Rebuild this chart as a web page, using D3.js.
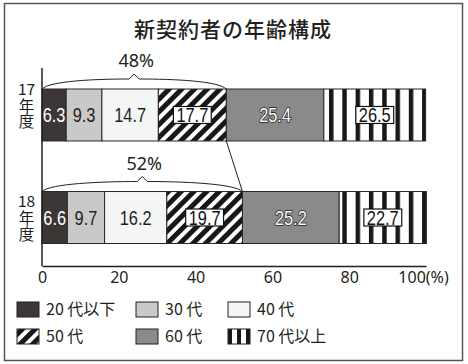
<!DOCTYPE html>
<html>
<head>
<meta charset="utf-8">
<script src="https://cdn.jsdelivr.net/npm/d3@7"></script>
<style>
body { margin: 0; background: #fff; }
</style>
</head>
<body>
<svg id="chart" width="468" height="364"></svg>
<script>
const years = ["17", "18"];
const groups = ["20代以下", "30代", "40代", "50代", "60代", "70代以上"];
const values17 = [6.3, 9.3, 14.7, 17.7, 25.4, 26.5];
const values18 = [6.6, 9.7, 16.2, 19.7, 25.2, 22.7];
const shareUnder60 = [48, 52];
const xTicks = [0, 20, 40, 60, 80, 100];
const legendLabels = ["20 代以下", "30 代", "40 代", "50 代", "60 代", "70 代以上"];

const fills = ["#3c3637", "#c9c9c9", "#f4f6f6", "url(#diag)", "#8a8a8a", "url(#vert)"];
const legendFills = ["#3c3637", "#c9c9c9", "#f4f6f6", "url(#diagLeg)", "#8a8a8a", "url(#vertLeg)"];
const numFont = "'Liberation Sans', Arial, sans-serif";
const jpFont = "'Noto Sans CJK JP', 'Noto Sans', sans-serif";

const svg = d3.select("#chart");

// frame
svg.append("rect")
    .attr("x", 4.5).attr("y", 3.5)
    .attr("width", 458).attr("height", 357)
    .attr("fill", "#fff")
    .attr("stroke", "#555")
    .attr("stroke-width", 1.5);

// patterns
const defs = svg.append("defs");
function stripes(id, w, black, x0, rotate) {
    const p = defs.append("pattern")
        .attr("id", id)
        .attr("patternUnits", "userSpaceOnUse")
        .attr("x", x0).attr("y", 0)
        .attr("width", w).attr("height", 40);
    if (rotate) p.attr("patternTransform", `rotate(${rotate})`);
    p.append("rect").attr("width", w).attr("height", 40).attr("fill", "#fff");
    p.append("rect").attr("width", black).attr("height", 40).attr("fill", "#1a1718");
}
stripes("diag", 9, 5, 0, 45);
stripes("vert", 13.3, 4.5, 329, 0);
stripes("diagLeg", 9, 5, 3, 45);
stripes("vertLeg", 9, 4, 228, 0);

// title
svg.append("text")
    .attr("x", 233).attr("y", 37)
    .attr("text-anchor", "middle")
    .attr("font-family", jpFont)
    .attr("font-weight", 500)
    .attr("font-size", 21)
    .attr("letter-spacing", 1)
    .attr("fill", "#231f20")
    .text("新契約者の年齢構成");

const x = d3.scaleLinear().domain([0, 100]).range([42, 426]);
const y = d3.scaleBand().domain(years).range([89, 243.5]).paddingInner(0.493).paddingOuter(0);

const rows = years.map(function (yr, i) {
    const vals = i === 0 ? values17 : values18;
    const row = { year: yr };
    groups.forEach(function (g, j) { row[g] = vals[j]; });
    return row;
});
const stacked = d3.stack().keys(groups)(rows);

// bars
const layers = svg.append("g")
    .selectAll("g")
    .data(stacked)
    .join("g")
    .attr("fill", function (d, i) { return fills[i]; });

layers.selectAll("rect")
    .data(function (d) { return d; })
    .join("rect")
    .attr("x", function (d) { return x(d[0]); })
    .attr("y", function (d) { return y(d.data.year); })
    .attr("width", function (d) { return x(d[1]) - x(d[0]); })
    .attr("height", y.bandwidth())
    .attr("stroke", "#2a2627")
    .attr("stroke-width", 1);

// value labels (narrowed horizontally like a condensed face)
const squeeze = 0.82;
stacked.forEach(function (layer, i) {
    layer.forEach(function (d) {
        const cx = (x(d[0]) + x(d[1])) / 2;
        const cy = y(d.data.year) + y.bandwidth() / 2;
        const g = svg.append("g");
        const inner = g.append("g")
            .attr("transform", `translate(${cx},${cy}) scale(${squeeze},1)`);
        const t = inner.append("text")
            .attr("dy", "0.36em")
            .attr("text-anchor", "middle")
            .attr("font-family", numFont)
            .attr("font-size", 20)
            .text(d.data[groups[i]].toFixed(1));
        if (i === 0) {
            t.attr("fill", "#fff");
        } else if (i === 4) {
            t.attr("fill", "#fff")
                .attr("stroke", "#222")
                .attr("stroke-width", 1.6)
                .attr("paint-order", "stroke");
        } else if (i === 3 || i === 5) {
            t.attr("fill", "#111");
            const w = t.node().getBBox().width * squeeze;
            g.insert("rect", "g")
                .attr("x", cx - w / 2 - 3)
                .attr("y", cy - 8.5)
                .attr("width", w + 6)
                .attr("height", 17)
                .attr("fill", "#fff")
                .attr("stroke", "#111")
                .attr("stroke-width", 1.2);
        } else {
            t.attr("fill", "#231f20");
        }
    });
});

// braces over the under-60 share
const under60 = stacked[3];
function bracePath(x0, x1, yb) {
    const mid = (x0 + x1) / 2;
    return `M${x0},${yb} C${x0 + 8},${yb - 8} ${mid - 40},${yb - 10} ${mid - 5},${yb - 10}` +
        ` L${mid},${yb - 15} L${mid + 5},${yb - 10}` +
        ` C${mid + 40},${yb - 10} ${x1 - 8},${yb - 8} ${x1},${yb}`;
}
under60.forEach(function (d, i) {
    const yb = y(d.data.year);
    const x0 = x(0), x1 = x(d[1]);
    svg.append("path")
        .attr("d", bracePath(x0, x1, yb))
        .attr("fill", "none")
        .attr("stroke", "#231f20")
        .attr("stroke-width", 1);
    svg.append("text")
        .attr("x", (x0 + x1) / 2 + 2)
        .attr("y", yb - 22)
        .attr("text-anchor", "middle")
        .attr("font-family", "'Noto Sans', sans-serif")
        .attr("font-size", 18)
        .attr("fill", "#231f20")
        .text(shareUnder60[i] + "%");
});
svg.append("line")
    .attr("x1", x(under60[0][1])).attr("y1", y(years[0]) + y.bandwidth())
    .attr("x2", x(under60[1][1])).attr("y2", y(years[1]))
    .attr("stroke", "#231f20")
    .attr("stroke-width", 1);

// year labels: number on top, 年度 written vertically below
const yearShift = [-10, 0];
const ySize = 15.5;
years.forEach(function (yr, i) {
    const c = y(yr) + y.bandwidth() / 2 + yearShift[i];
    svg.append("text")
        .attr("x", 26.5)
        .attr("y", c - 16)
        .attr("dy", "0.36em")
        .attr("text-anchor", "middle")
        .attr("font-family", jpFont)
        .attr("font-size", ySize)
        .attr("fill", "#231f20")
        .text(yr);
    svg.append("text")
        .attr("x", 26.5)
        .attr("y", c - ySize / 2 + 1)
        .attr("writing-mode", "vertical-rl")
        .attr("text-anchor", "start")
        .attr("font-family", jpFont)
        .attr("font-size", ySize)
        .attr("fill", "#231f20")
        .text("年度");
});

// axes
svg.append("line")
    .attr("x1", x(0)).attr("x2", x(0))
    .attr("y1", 68).attr("y2", 266)
    .attr("stroke", "#231f20")
    .attr("stroke-width", 1.5);

const xAxis = svg.append("g")
    .attr("transform", "translate(0,266)")
    .call(d3.axisBottom(x)
        .tickValues(xTicks)
        .tickSize(0)
        .tickSizeOuter(0)
        .tickPadding(6)
        .tickFormat(function (d) { return d === 100 ? "100(%)" : d; }));
xAxis.select(".domain").attr("stroke", "#231f20").attr("stroke-width", 1.5);
xAxis.selectAll("text")
    .attr("font-family", "'Noto Sans', sans-serif")
    .attr("font-size", 16)
    .attr("fill", "#231f20")
    .attr("dx", function (d) { return d === 100 ? -3 : 0; });

// legend
const legCols = [17, 136, 228];
const legRows = [302, 329];
legendLabels.forEach(function (lab, i) {
    const lx = legCols[i % 3], ly = legRows[Math.floor(i / 3)];
    svg.append("rect")
        .attr("x", lx).attr("y", ly)
        .attr("width", 22).attr("height", 15)
        .attr("fill", legendFills[i])
        .attr("stroke", "#231f20")
        .attr("stroke-width", 1);
    svg.append("text")
        .attr("x", lx + 29).attr("y", ly + 7.5)
        .attr("dy", "0.36em")
        .attr("font-family", jpFont)
        .attr("font-size", 16)
        .attr("fill", "#231f20")
        .text(lab);
});
</script>
</body>
</html>
